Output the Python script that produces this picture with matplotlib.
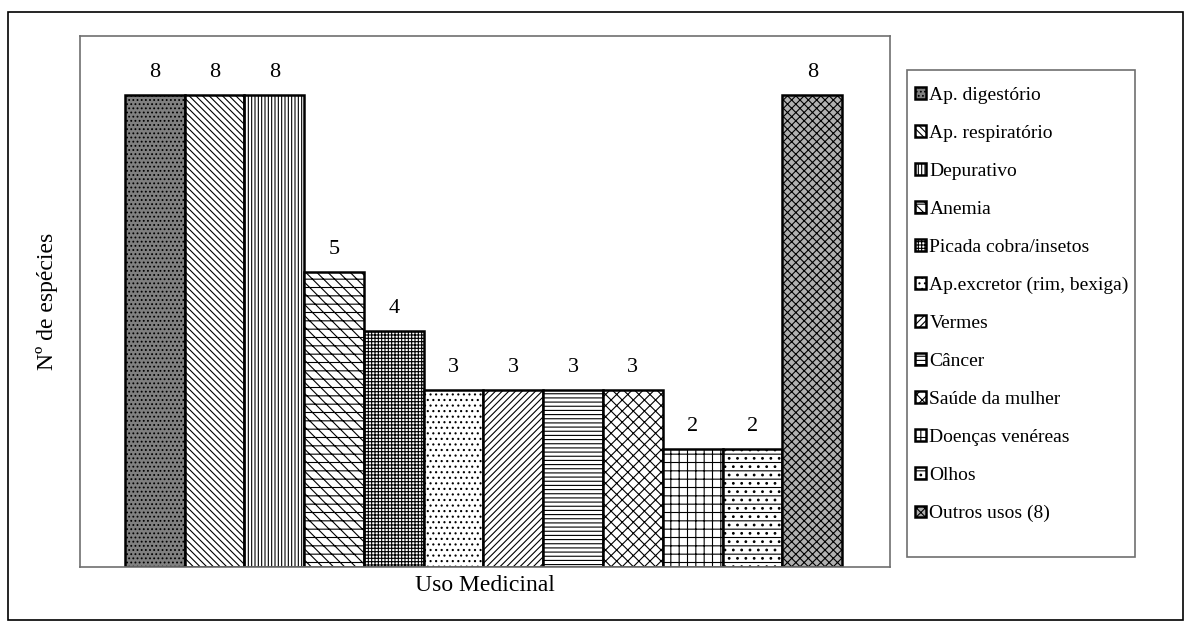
import matplotlib.pyplot as plt
from matplotlib.patches import Rectangle

plt.rcParams['font.family'] = ['Liberation Serif', 'DejaVu Serif']
plt.rcParams['hatch.linewidth'] = 0.8

usos = ["Ap. digestório", "Ap. respiratório", "Depurativo", "Anemia",
        "Picada cobra/insetos", "Ap.excretor (rim, bexiga)", "Vermes", "Câncer",
        "Saúde da mulher", "Doenças venéreas", "Olhos", "Outros usos (8)"]
especies = [8, 8, 8, 5, 4, 3, 3, 3, 3, 2, 2, 8]

# preenchimento de cada barra (cor de fundo, hachura)
fills = [("#808080", "...."), ("white", "\\\\\\\\\\"), ("white", "|||||"),
         ("white", "\\\\\\--"), ("white", "+++++"), ("white", "..."),
         ("white", "/////"), ("white", "----"), ("white", "xxx"),
         ("white", "++"), ("white", "--.."), ("#b0b0b0", "xxxx")]

fig = plt.figure(figsize=(11.93, 6.32), dpi=100)
fig.patches.append(Rectangle((0.007, 0.019), 0.985, 0.962, transform=fig.transFigure,
                             fill=False, edgecolor="black", linewidth=1.2))
# moldura da legenda
fig.patches.append(Rectangle((0.760, 0.119), 0.191, 0.770, transform=fig.transFigure,
                             fill=False, edgecolor="#6f6f6f", linewidth=1.2))

ax = fig.add_axes([0.067, 0.103, 0.679, 0.840])
x = range(len(usos))
bars = []
for i in x:
    fc, h = fills[i]
    b = ax.bar(i, especies[i], width=1.0, color=fc, hatch=h, edgecolor="black",
               linewidth=1.8, label=usos[i])
    bars.append(b)
    ax.text(i, especies[i] + 0.22, str(especies[i]), ha="center", va="bottom", fontsize=16)

ax.set_xlim(-1.25, 12.3)
ax.set_ylim(0, 9)
ax.set_xticks([])
ax.set_yticks([])
for s in ax.spines.values():
    s.set_color("#6f6f6f")
    s.set_linewidth(1.2)
ax.set_xlabel("Uso Medicinal", fontsize=17, labelpad=6)
ax.set_ylabel("Nº de espécies", fontsize=17, labelpad=16)

leg = fig.legend(handles=bars, labels=usos, loc="upper left",
                 bbox_to_anchor=(0.762, 0.872), fontsize=14, frameon=False,
                 handlelength=0.55, handleheight=0.55,
                 handletextpad=0.2, labelspacing=1.08, borderpad=0.3,
                 borderaxespad=0)

fig.savefig("out.png", dpi=100)
